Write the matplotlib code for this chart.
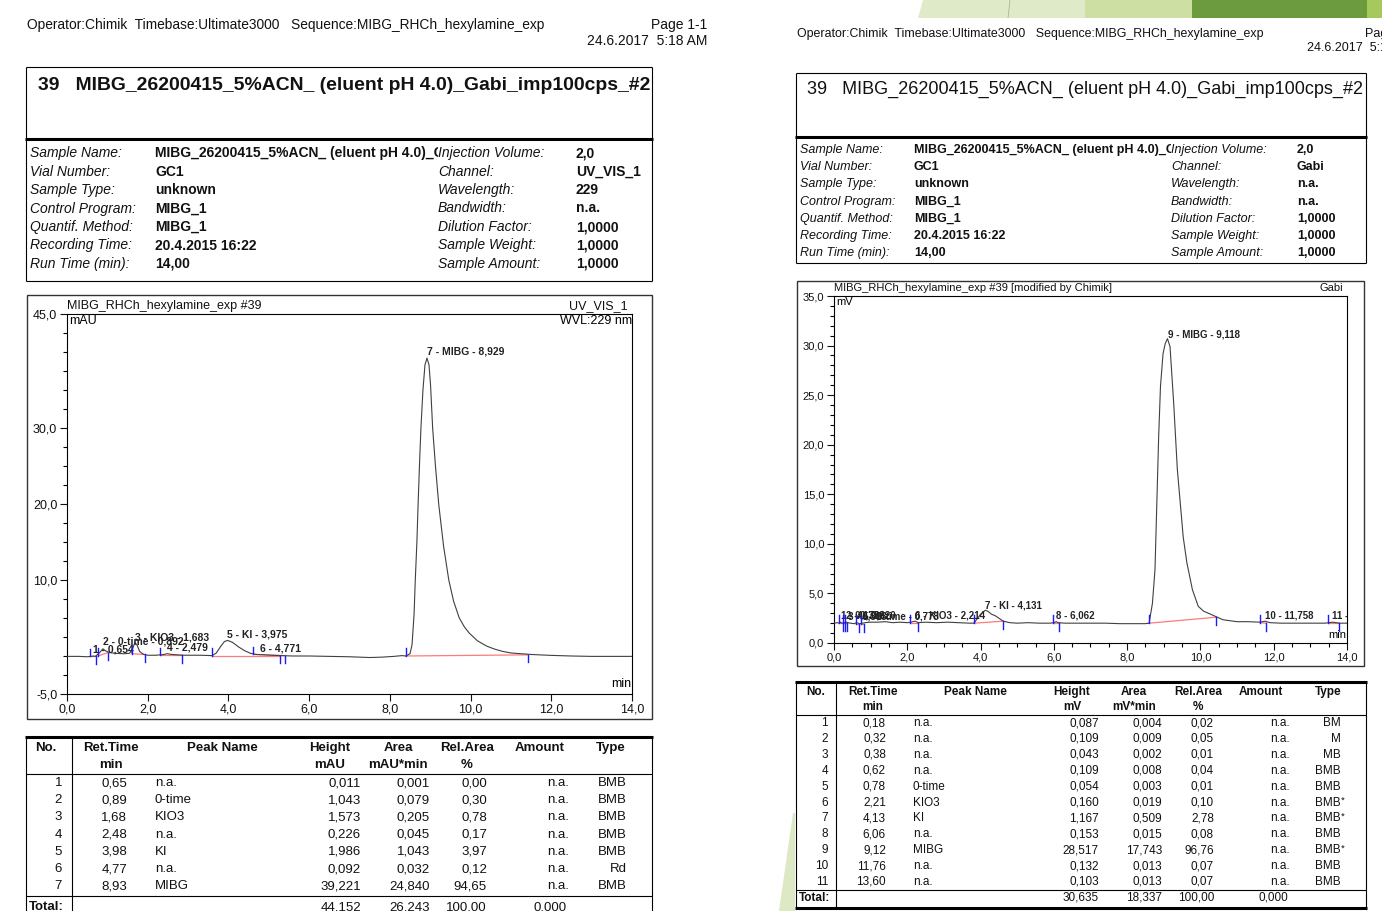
import matplotlib
matplotlib.use("Agg")
import matplotlib.pyplot as plt
from matplotlib.patches import Polygon, Rectangle
from matplotlib.ticker import MultipleLocator, FixedLocator, FuncFormatter

plt.rcParams['font.family'] = ['Liberation Sans', 'DejaVu Sans']

# ---------------- report texts ----------------
header = "Operator:Chimik  Timebase:Ultimate3000   Sequence:MIBG_RHCh_hexylamine_exp"
page_no = "Page 1-1"
page_date = "24.6.2017  5:18 AM"
title = "39   MIBG_26200415_5%ACN_ (eluent pH 4.0)_Gabi_imp100cps_#2"
chart_name = "MIBG_RHCh_hexylamine_exp #39"

info_labels = ["Sample Name:", "Vial Number:", "Sample Type:", "Control Program:",
               "Quantif. Method:", "Recording Time:", "Run Time (min):"]
info_values = ["MIBG_26200415_5%ACN_ (eluent pH 4.0)_Gabi_imp100cps_#2", "GC1", "unknown",
               "MIBG_1", "MIBG_1", "20.4.2015 16:22", "14,00"]
info_labels2 = ["Injection Volume:", "Channel:", "Wavelength:", "Bandwidth:",
                "Dilution Factor:", "Sample Weight:", "Sample Amount:"]
uv_info_values2 = ["2,0", "UV_VIS_1", "229", "n.a.", "1,0000", "1,0000", "1,0000"]
gabi_info_values2 = ["2,0", "Gabi", "n.a.", "n.a.", "1,0000", "1,0000", "1,0000"]

col_head1 = ["No.", "Ret.Time", "Peak Name", "Height", "Area", "Rel.Area", "Amount", "Type"]
uv_head2 = ["", "min", "", "mAU", "mAU*min", "%", "", ""]
gabi_head2 = ["", "min", "", "mV", "mV*min", "%", "", ""]

# ---------------- UV_VIS_1 chromatogram (mAU) ----------------
uv_time = [0.0, 0.3, 0.5, 0.6, 0.65, 0.7, 0.8, 0.89, 0.95, 1.05, 1.2, 1.4, 1.55, 1.62, 1.68,
           1.73, 1.8, 1.9, 2.0, 2.2, 2.4, 2.48, 2.6, 2.9, 3.3, 3.6, 3.7, 3.8, 3.9, 3.98, 4.1,
           4.25, 4.4, 4.55, 4.7, 4.8, 5.0, 5.3, 5.6, 6.0, 6.5, 7.0, 7.5, 7.8, 8.1, 8.3, 8.4,
           8.5, 8.55, 8.6, 8.63, 8.67, 8.7, 8.74, 8.77, 8.82, 8.87, 8.92, 8.97, 9.01, 9.06,
           9.13, 9.21, 9.33, 9.46, 9.58, 9.72, 9.85, 9.97, 10.17, 10.4, 10.6, 10.8, 11.0,
           11.5, 12.0, 12.5, 13.0, 14.0]
uv_signal = [-0.05, -0.05, -0.1, -0.05, 0.0, -0.05, 0.4, 0.95, 0.7, 0.45, 0.35, 0.3, 0.35, 0.9,
             1.75, 1.5, 0.6, 0.2, 0.1, 0.1, 0.2, 0.3, 0.2, 0.1, 0.1, 0.05, 0.4, 1.2, 1.9, 2.05,
             1.8, 1.2, 0.7, 0.35, 0.2, 0.18, 0.12, 0.05, 0.0, 0.0, -0.05, -0.1, -0.2, -0.15,
             -0.05, 0.05, 0.0, 0.3, 1.5, 5.5, 10.0, 15.0, 20.0, 26.0, 30.0, 35.0, 38.3, 39.2,
             38.3, 35.5, 30.0, 25.0, 20.0, 14.5, 10.0, 7.2, 5.0, 3.8, 3.0, 2.0, 1.3, 0.9, 0.6,
             0.4, 0.2, 0.08, 0.0, -0.05, -0.05]
uv_start = [0.56, 0.77, 1.60, 2.31, 3.59, 4.62, 8.39]
uv_end = [0.71, 1.01, 1.94, 2.85, 5.27, 5.41, 11.42]
uv_base0 = [-0.05, 0.0, 0.3, 0.1, 0.05, 0.2, 0.0]
uv_base1 = [-0.05, 0.45, 0.2, 0.1, 0.05, 0.05, 0.15]

uv_no = [1, 2, 3, 4, 5, 6, 7]
uv_rt = [0.65, 0.89, 1.68, 2.48, 3.98, 4.77, 8.93]
uv_rt_label = [0.654, 0.892, 1.683, 2.479, 3.975, 4.771, 8.929]
uv_name = ["n.a.", "0-time", "KIO3", "n.a.", "KI", "n.a.", "MIBG"]
uv_height = [0.011, 1.043, 1.573, 0.226, 1.986, 0.092, 39.221]
uv_area = [0.001, 0.079, 0.205, 0.045, 1.043, 0.032, 24.840]
uv_relarea = [0.00, 0.30, 0.78, 0.17, 3.97, 0.12, 94.65]
uv_type = ["BMB", "BMB", "BMB", "BMB", "BMB", "Rd", "BMB"]
uv_total = ["44,152", "26,243", "100,00", "0,000"]

# ---------------- Gabi chromatogram (mV) ----------------
gabi_time = [0.0, 0.1, 0.14, 0.18, 0.22, 0.28, 0.32, 0.38, 0.45, 0.55, 0.62, 0.7, 0.78, 0.85,
             1.0, 1.2, 1.4, 1.6, 1.8, 2.0, 2.1, 2.21, 2.3, 2.5, 2.8, 3.1, 3.4, 3.7, 3.82, 3.9,
             4.0, 4.13, 4.2, 4.3, 4.4, 4.5, 4.62, 4.8, 5.0, 5.3, 5.6, 5.9, 6.0, 6.06, 6.12, 6.3,
             6.6, 7.0, 7.4, 7.8, 8.2, 8.5, 8.6, 8.69, 8.76, 8.81, 8.86, 8.91, 8.98, 9.04, 9.10,
             9.17, 9.27, 9.37, 9.53, 9.63, 9.78, 9.94, 10.09, 10.25, 10.43, 10.61, 10.8, 11.0,
             11.3, 11.63, 11.76, 11.9, 12.2, 12.6, 13.0, 13.4, 13.6, 13.8, 14.0]
gabi_signal = [2.0, 2.05, 2.0, 2.1, 2.0, 2.05, 2.12, 2.05, 2.0, 1.95, 2.05, 1.95, 2.0, 2.05,
               2.1, 2.1, 2.15, 2.05, 2.1, 2.05, 2.1, 2.2, 2.05, 2.1, 2.05, 2.1, 2.05, 2.0, 2.0,
               2.4, 2.9, 3.3, 3.2, 2.9, 2.75, 2.5, 2.2, 2.05, 2.0, 2.05, 2.0, 2.0, 2.05, 2.15,
               2.05, 2.0, 2.0, 2.0, 2.0, 1.95, 1.95, 1.95, 2.0, 4.0, 7.4, 14.1, 20.8, 25.9, 29.2,
               30.2, 30.7, 29.9, 24.2, 17.5, 10.7, 8.1, 5.4, 3.7, 3.2, 2.95, 2.65, 2.35, 2.25,
               2.15, 2.15, 2.1, 2.2, 2.05, 2.0, 2.0, 2.0, 2.0, 2.1, 2.0, 2.0]
gabi_start = [0.14, 0.24, 0.30, 0.59, 0.73, 2.07, 3.82, 5.99, 8.60, 11.63, 13.48]
gabi_end = [0.24, 0.30, 0.36, 0.69, 0.82, 2.28, 4.62, 6.14, 10.43, 11.79, 13.79]
gabi_base0 = [2.0, 2.0, 2.0, 1.9, 1.9, 2.0, 2.0, 2.0, 2.0, 2.05, 2.0]
gabi_base1 = [2.0, 2.0, 2.0, 1.9, 1.9, 2.0, 2.2, 2.0, 2.6, 2.0, 2.0]

gabi_no = [1, 2, 3, 4, 5, 6, 7, 8, 9, 10, 11]
gabi_rt = [0.18, 0.32, 0.38, 0.62, 0.78, 2.21, 4.13, 6.06, 9.12, 11.76, 13.60]
gabi_rt_label = [0.178, 0.322, 0.383, 0.620, 0.778, 2.214, 4.131, 6.062, 9.118, 11.758, 13.603]
gabi_name = ["n.a.", "n.a.", "n.a.", "n.a.", "0-time", "KIO3", "KI", "n.a.", "MIBG", "n.a.", "n.a."]
gabi_height = [0.087, 0.109, 0.043, 0.109, 0.054, 0.160, 1.167, 0.153, 28.517, 0.132, 0.103]
gabi_area = [0.004, 0.009, 0.002, 0.008, 0.003, 0.019, 0.509, 0.015, 17.743, 0.013, 0.013]
gabi_relarea = [0.02, 0.05, 0.01, 0.04, 0.01, 0.10, 2.78, 0.08, 96.76, 0.07, 0.07]
gabi_type = ["BM", "M", "MB", "BMB", "BMB", "BMB*", "BMB*", "BMB", "BMB*", "BMB", "BMB"]
gabi_total = ["30,635", "18,337", "100,00", "0,000"]


def de(v, n):
    return f"{v:.{n}f}".replace('.', ',')


W, H = 1382, 911
fig = plt.figure(figsize=(W / 100, H / 100), dpi=100)
bg = fig.add_axes([0, 0, 1, 1])
bg.set_xlim(0, W)
bg.set_ylim(H, 0)
bg.axis('off')
renderer = fig.canvas.get_renderer()


def txt(x, y, s, size, **kw):
    kw.setdefault('va', 'center')
    return bg.text(x, y, s, fontsize=size, color='#111111', **kw)


def fit(t, width):
    w = t.get_window_extent(renderer).width
    t.set_fontsize(t.get_fontsize() * width / w)


def line(x0, y0, x1, y1, lw=0.8, color='black'):
    bg.plot([x0, x1], [y0, y1], color=color, lw=lw, solid_capstyle='butt')


def px_rect(x0, y0, x1, y1):
    return [x0 / W, 1 - y1 / H, (x1 - x0) / W, (y1 - y0) / H]


# green slide decoration on the right
bg.add_patch(Polygon([(918, 18), (923, 0), (1085, 0), (1085, 18)], color='#dfeac9', lw=0))
bg.add_patch(Polygon([(1085, 0), (1192, 0), (1192, 18), (1085, 18)], color='#cddfa2', lw=0))
bg.add_patch(Polygon([(1192, 0), (1367, 0), (1367, 18), (1192, 18)], color='#6b9a3f', lw=0))
bg.add_patch(Polygon([(1367, 0), (1382, 0), (1382, 18), (1367, 18)], color='#a5c95d', lw=0))
line(1008, 18, 1010, 0, lw=0.6, color='#a9b49a')
bg.add_patch(Polygon([(779, 911), (793, 813), (795, 813), (795, 911)], color='#dce9c4', lw=0))


def page(P):
    # header
    fit(txt(P['x0'] + 1, P['yh'], header, 10), P['hw'])
    for s, x, y in zip([page_no, page_date], P['xpage'], P['ypage']):
        txt(x, y, s, P['hs'], ha=P['pha'])
    # title box
    x0, x1 = P['x0'], P['x1']
    line(x0, P['yt0'], x1, P['yt0'])
    line(x0, P['yt0'], x0, P['yi1'])
    line(x1, P['yt0'], x1, P['yi1'])
    line(x0 - 1, P['ythick'], x1 + 1, P['ythick'], lw=2.2)
    line(x0, P['yi1'], x1, P['yi1'])
    fit(txt(P['xtitle'], P['ytitle'], title, 12, fontweight=P['tw']), P['tlen'])
    # info block
    for i in range(7):
        y = P['yi0'] + i * P['dyi']
        txt(x0 + 4, y, info_labels[i], P['fs'], style='italic')
        t = txt(P['xv'], y, info_values[i], P['fs'], fontweight='bold', clip_on=True)
        if i == 0:
            t.set_clip_path(Rectangle((P['xv'], y - 10), P['xl2'] - P['xv'], 20,
                                      transform=bg.transData))
        txt(P['xl2'], y, info_labels2[i], P['fs'], style='italic')
        txt(P['xv2'], y, P['values2'][i], P['fs'], fontweight='bold')
    # chart frame
    bg.add_patch(Rectangle((P['cx0'], P['cy0']), P['cx1'] - P['cx0'], P['cy1'] - P['cy0'],
                           fill=False, ec='#333333', lw=1.0))


def chromatogram(P, t, v, starts, ends, b0, b1, nos, names, rt_lab, heights):
    ax = fig.add_axes(px_rect(*P['axpx']))
    ax.plot(t, v, color='#404040', lw=0.8, zorder=3)
    tl = P['ticklen']
    for s, e, y0, y1 in zip(starts, ends, b0, b1):
        ax.plot([s, e], [y0, y1], color='#ff4d4d', lw=0.9, alpha=0.75, zorder=2)
        ax.plot([s, s], [y0, y0 + tl], color='#1a1aff', lw=1.0, zorder=4)
        ax.plot([e, e], [y1, y1 - tl], color='#1a1aff', lw=1.0, zorder=4)
    for n, name, r, h in zip(nos, names, rt_lab, heights):
        lab = f"{n} - {de(r, 3)}" if name == "n.a." else f"{n} - {name} - {de(r, 3)}"
        ax.annotate(lab, (r, P['lbase'] + h), xytext=(0, 1), textcoords='offset points',
                    fontsize=P['lfs'], fontweight='bold', color='#222222',
                    ha='left', va='bottom', clip_on=True)
    ax.set_xlim(0, 14)
    ax.set_ylim(*P['ylim'])
    ax.xaxis.set_major_locator(MultipleLocator(2))
    if P['xminor']:
        ax.xaxis.set_minor_locator(MultipleLocator(P['xminor']))
    ax.yaxis.set_major_locator(FixedLocator(P['yticks']))
    ax.yaxis.set_minor_locator(MultipleLocator(P['yminor']))
    fmt = FuncFormatter(lambda val, pos: de(val, 1))
    ax.xaxis.set_major_formatter(fmt)
    ax.yaxis.set_major_formatter(fmt)
    ax.tick_params(which='major', direction='out', length=5, width=0.8,
                   labelsize=P['tfs'], pad=2, colors='#111111')
    ax.tick_params(which='minor', direction='out', length=3, width=0.8)
    for sp in ax.spines.values():
        sp.set_linewidth(0.8)
    ax.text(0.004, 0.997, P['unit'], transform=ax.transAxes, ha='left', va='top', fontsize=P['tfs'])
    ax.text(0.999, 0.01, "min", transform=ax.transAxes, ha='right', va='bottom', fontsize=P['tfs'])
    x0, ytop = P['axpx'][0], P['axpx'][1]
    txt(x0, ytop - 8, P['cname'], P['tfs'])
    txt(P['axpx'][2] - 4, ytop - 8, P['channel'], P['tfs'], ha='right')
    if P['wvl']:
        ax.text(1.0, 0.997, P['wvl'], transform=ax.transAxes, ha='right', va='top', fontsize=P['tfs'])
    return ax


def table(P, rt, names, heights, areas, rels, types, totals, nos):
    x0, x1 = P['x0'], P['x1']
    line(x0 - 1, P['ytab'], x1 + 1, P['ytab'], lw=2.2)
    line(x0, P['ytab'], x0, P['ybot'])
    line(x1, P['ytab'], x1, P['ybot'])
    line(P['xcol'], P['ytab'], P['xcol'], P['ybot'])
    line(x0, P['yhl'], x1, P['yhl'])
    line(x0, P['ytot'], x1, P['ytot'])
    if P['ybottom_thick']:
        line(x0 - 1, P['ybottom_thick'], x1 + 1, P['ybottom_thick'], lw=2.2)
    fs = P['tabfs']
    for h1, h2, cx in zip(col_head1, P['head2'], P['hcx']):
        txt(cx, P['yh1'], h1, fs, ha='center', fontweight='bold')
        if h2:
            txt(cx, P['yh2'], h2, fs, ha='center', fontweight='bold')
    c = P['cols']
    for i in range(len(rt)):
        y = P['yr0'] + i * P['dyr']
        txt(c[0], y, str(nos[i]), fs, ha='right')
        txt(c[1], y, de(rt[i], 2), fs, ha='right')
        txt(c[2], y, names[i], fs, ha='left')
        txt(c[3], y, de(heights[i], 3), fs, ha='right')
        txt(c[4], y, de(areas[i], 3), fs, ha='right')
        txt(c[5], y, de(rels[i], 2), fs, ha='right')
        txt(c[6], y, "n.a.", fs, ha='right')
        tp = types[i]
        txt(c[7], y, tp.rstrip('*'), fs, ha='right')
        if tp.endswith('*'):
            txt(c[7], y - 2, '*', fs * 0.8, ha='left')
    txt(x0 + 3, P['ytotal'], "Total:", fs, fontweight='bold')
    for s, cx in zip(totals, [c[3], c[4], c[5], c[6] - 2]):
        txt(cx, P['ytotal'], s, fs, ha='right')


left = dict(x0=26, x1=652, yh=25, hw=516, ypage=[25, 41], xpage=[707, 707], pha='right', hs=10,
            yt0=67, ythick=139, yi1=281, xtitle=38, ytitle=86, tw='bold', tlen=609,
            yi0=153, dyi=18.5, fs=10, xv=155, xl2=438, xv2=576, values2=uv_info_values2,
            cx0=27, cy0=295, cx1=652, cy1=719,
            axpx=(67, 314, 632, 694), ticklen=1.0, lbase=0.0, lfs=7.5, ylim=(-5, 45),
            xminor=None, yticks=[-5, 10, 20, 30, 45], yminor=2.5, tfs=9, unit="mAU",
            cname=chart_name, channel="UV_VIS_1", wvl="WVL:229 nm",
            ytab=737, ybot=911, xcol=72, yhl=774, ytot=896, ybottom_thick=None, tabfs=9.5,
            head2=uv_head2, hcx=[46, 111, 222, 330, 398, 467, 540, 611], yh1=748, yh2=765,
            cols=[62, 127, 155, 361, 430, 487, 569, 627], yr0=783, dyr=17.2, ytotal=907)

right = dict(x0=796, x1=1366, yh=34, hw=469, ypage=[34, 48], xpage=[1365, 1307], pha='left', hs=9,
             yt0=73, ythick=137, yi1=263, xtitle=807, ytitle=89, tw='normal', tlen=554,
             yi0=150, dyi=17.2, fs=9, xv=914, xl2=1171, xv2=1297, values2=gabi_info_values2,
             cx0=797, cy0=281, cx1=1364, cy1=666,
             axpx=(834, 296, 1347, 643), ticklen=0.8, lbase=2.0, lfs=7, ylim=(0, 35),
             xminor=0.5, yticks=[0, 5, 10, 15, 20, 25, 30, 35], yminor=1, tfs=8, unit="mV",
             cname=chart_name + " [modified by Chimik]", channel="Gabi", wvl=None,
             ytab=682, ybot=908, xcol=836, yhl=715, ytot=890, ybottom_thick=908, tabfs=8.5,
             head2=gabi_head2, hcx=[816, 873, 975, 1072, 1134, 1198, 1261, 1328], yh1=692,
             yh2=707, cols=[828, 886, 913, 1099, 1162, 1214, 1290, 1341], yr0=723, dyr=15.9,
             ytotal=898)

page(left)
page(right)

chromatogram(left, uv_time, uv_signal, uv_start, uv_end, uv_base0, uv_base1,
             uv_no, uv_name, uv_rt_label, uv_height)
chromatogram(right, gabi_time, gabi_signal, gabi_start, gabi_end, gabi_base0, gabi_base1,
             gabi_no, gabi_name, gabi_rt_label, gabi_height)

table(left, uv_rt, uv_name, uv_height, uv_area, uv_relarea, uv_type, uv_total, uv_no)
table(right, gabi_rt, gabi_name, gabi_height, gabi_area, gabi_relarea, gabi_type, gabi_total, gabi_no)

fig.savefig("out.png", dpi=100)
